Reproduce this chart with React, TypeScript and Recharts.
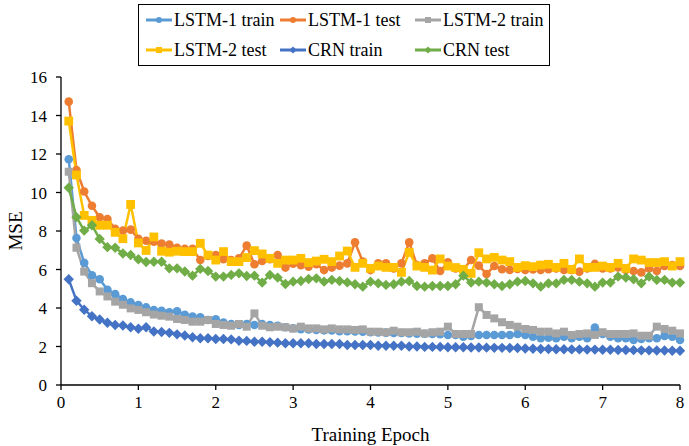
import React from 'react';
import { LineChart, Line, XAxis, YAxis } from 'recharts';

const epochs: number[] = Array.from({ length: 80 }, (_, i) => Math.round((i + 1)) / 10);

const lstm1Train = [
  11.73, 7.64, 6.35, 5.7, 5.49, 4.95, 4.72, 4.46, 4.29, 4.15, 4.03, 3.9, 3.86, 3.78, 3.83,
  3.65, 3.55, 3.52, 3.38, 3.41, 3.24, 3.17, 3.12, 3.17, 3.12, 3.17, 3.12, 3.07, 3.0, 2.95,
  2.9, 2.88, 2.86, 2.84, 2.83, 2.8, 2.8, 2.78, 2.77, 2.74, 2.73, 2.72, 2.7, 2.7, 2.68,
  2.67, 2.66, 2.65, 2.64, 2.6, 2.6, 2.51, 2.55, 2.6, 2.6, 2.6, 2.6, 2.6, 2.65, 2.6,
  2.51, 2.43, 2.46, 2.43, 2.51, 2.43, 2.51, 2.43, 2.98, 2.65, 2.51, 2.43, 2.43, 2.34, 2.39, 2.43, 2.43, 2.55, 2.51, 2.34,
];
const lstm1Test = [
  14.72, 11.17, 10.05, 9.31, 8.71, 8.62, 8.12, 8.02, 8.07, 7.6, 7.49, 7.44, 7.35, 7.3, 7.13,
  7.07, 7.07, 6.49, 6.7, 6.75, 6.53, 6.49, 6.58, 7.24, 6.27, 6.44, 6.53, 6.75, 6.1, 6.3,
  6.22, 6.15, 6.27, 5.97, 6.1, 6.2, 6.32, 7.41, 6.41, 5.97, 6.32, 6.32, 6.06, 6.32, 7.41,
  6.23, 6.32, 6.58, 5.92, 6.37, 6.06, 6.0, 6.49, 6.2, 5.77, 6.18, 6.01, 5.98, 6.03, 5.98,
  6.0, 5.98, 6.01, 6.06, 5.98, 5.98, 5.89, 6.06, 6.29, 6.06, 6.06, 6.11, 5.98, 5.92, 5.85, 6.06, 5.92, 6.18, 6.23, 6.18,
];
const lstm2Train = [
  11.08, 7.13, 5.89, 5.29, 4.86, 4.6, 4.33, 4.17, 3.98, 3.9, 3.78, 3.66, 3.6, 3.55, 3.43,
  3.38, 3.29, 3.29, 3.38, 3.17, 3.12, 3.08, 3.17, 3.03, 3.72, 3.08, 3.0, 3.03, 3.0, 2.93,
  3.03, 2.94, 2.94, 2.89, 2.94, 2.89, 2.89, 2.86, 2.89, 2.77, 2.77, 2.74, 2.82, 2.74, 2.74,
  2.77, 2.68, 2.74, 2.77, 3.03, 2.65, 2.65, 2.65, 4.04, 3.64, 3.46, 3.26, 3.12, 3.03, 2.91,
  2.86, 2.77, 2.77, 2.68, 2.77, 2.6, 2.65, 2.68, 2.6, 2.74, 2.65, 2.65, 2.65, 2.68, 2.56, 2.56, 3.03, 2.91, 2.82, 2.68,
];
const lstm2Test = [
  13.71, 10.91, 8.81, 8.55, 8.3, 8.3, 7.93, 7.6, 9.38, 7.38, 6.99, 7.69, 6.95, 6.9, 6.95,
  6.93, 6.93, 7.36, 6.75, 6.49, 6.93, 6.41, 6.41, 6.62, 6.98, 6.81, 6.58, 6.32, 6.49, 6.49,
  6.58, 6.36, 6.44, 6.53, 6.41, 6.7, 6.96, 6.11, 6.32, 6.06, 6.18, 6.11, 6.11, 5.85, 6.89,
  6.18, 6.11, 5.97, 6.55, 6.18, 6.1, 6.01, 5.8, 6.87, 6.55, 6.63, 6.49, 6.41, 6.11, 6.2,
  6.15, 6.23, 6.27, 6.11, 6.32, 6.01, 6.55, 6.11, 6.11, 6.18, 6.11, 6.32, 6.06, 6.55, 6.49, 6.36, 6.36, 6.41, 6.18, 6.41,
];
const crnTrain = [
  5.49, 4.38, 3.91, 3.57, 3.4, 3.23, 3.12, 3.09, 3.0, 2.92, 3.0, 2.78, 2.75, 2.71, 2.63,
  2.57, 2.48, 2.43, 2.43, 2.39, 2.39, 2.37, 2.3, 2.29, 2.25, 2.25, 2.22, 2.2, 2.17, 2.17,
  2.17, 2.17, 2.13, 2.13, 2.13, 2.13, 2.08, 2.08, 2.08, 2.08, 2.04, 2.04, 2.04, 2.04, 2.0,
  2.0, 1.98, 1.98, 1.98, 1.96, 1.96, 1.96, 1.95, 1.95, 1.94, 1.93, 1.93, 1.92, 1.92, 1.9,
  1.88, 1.87, 1.87, 1.86, 1.86, 1.85, 1.85, 1.84, 1.84, 1.83, 1.83, 1.82, 1.82, 1.81, 1.8, 1.8, 1.79, 1.79, 1.78, 1.78,
];
const crnTest = [
  10.25, 8.72, 8.02, 8.3, 7.59, 7.16, 7.13, 6.83, 6.75, 6.53, 6.39, 6.4, 6.4, 6.06, 6.06,
  5.9, 5.68, 6.03, 5.92, 5.63, 5.63, 5.72, 5.8, 5.66, 5.68, 5.32, 5.72, 5.58, 5.25, 5.37,
  5.4, 5.51, 5.54, 5.37, 5.46, 5.4, 5.33, 5.23, 5.11, 5.37, 5.28, 5.2, 5.23, 5.37, 5.4,
  5.14, 5.11, 5.14, 5.14, 5.14, 5.23, 5.68, 5.32, 5.37, 5.32, 5.23, 5.14, 5.23, 5.37, 5.4,
  5.28, 5.11, 5.28, 5.28, 5.46, 5.46, 5.37, 5.28, 5.11, 5.32, 5.32, 5.63, 5.58, 5.49, 5.28, 5.63, 5.46, 5.46, 5.32, 5.32,
];

const xTicks = [0, 1, 2, 3, 4, 5, 6, 7, 8];
const yTicks = [0, 2, 4, 6, 8, 10, 12, 14, 16];

const data = epochs.map((e, i) => ({
  epoch: e,
  l1tr: lstm1Train[i],
  l1te: lstm1Test[i],
  l2tr: lstm2Train[i],
  l2te: lstm2Test[i],
  crntr: crnTrain[i],
  crnte: crnTest[i],
}));

type Shape = 'circle' | 'square' | 'diamond';

const series: { key: string; name: string; color: string; shape: Shape; size: number }[] = [
  { key: 'l1tr', name: 'LSTM-1 train', color: '#5B9BD5', shape: 'circle', size: 4.3 },
  { key: 'l1te', name: 'LSTM-1 test', color: '#ED7D31', shape: 'circle', size: 4.3 },
  { key: 'l2tr', name: 'LSTM-2 train', color: '#A5A5A5', shape: 'square', size: 4 },
  { key: 'l2te', name: 'LSTM-2 test', color: '#FFC000', shape: 'square', size: 4.4 },
  { key: 'crntr', name: 'CRN train', color: '#4472C4', shape: 'diamond', size: 5.2 },
  { key: 'crnte', name: 'CRN test', color: '#70AD47', shape: 'diamond', size: 5.2 },
];

const renderMarker = (shape: Shape, cx: number, cy: number, s: number, color: string, key?: any) => {
  if (shape === 'circle') return <circle key={key} cx={cx} cy={cy} r={s} fill={color} stroke="none" />;
  if (shape === 'square')
    return <rect key={key} x={cx - s} y={cy - s} width={2 * s} height={2 * s} fill={color} stroke="none" />;
  return (
    <path
      key={key}
      d={`M${cx},${cy - s}L${cx + s},${cy}L${cx},${cy + s}L${cx - s},${cy}Z`}
      fill={color}
      stroke="none"
    />
  );
};

const makeDot = (shape: Shape, color: string, size: number) => (p: any) => {
  if (p.cx == null || p.cy == null) return <g key={p.index} />;
  return renderMarker(shape, p.cx, p.cy, size, color, `${p.dataKey}-${p.index}`);
};

const serif = '"Liberation Serif", "Times New Roman", serif';

const LegendBox = () => (
  <div
    style={{
      position: 'absolute',
      left: 138,
      top: 4,
      border: '1px solid #000',
      width: 412,
      height: 62,
      boxSizing: 'border-box',
      background: '#fff',
      display: 'grid',
      gridTemplateColumns: '134px 135px 140px',
      gridTemplateRows: '30px 30px',
      paddingLeft: 7,
      paddingTop: 0,
      fontFamily: serif,
      fontSize: 18,
      color: '#000',
    }}
  >
    {series.map((s) => (
      <div key={s.key} style={{ display: 'flex', alignItems: 'center', whiteSpace: 'nowrap' }}>
        <svg width={26} height={12} style={{ marginRight: 2 }}>
          <line x1={0} y1={6} x2={26} y2={6} stroke={s.color} strokeWidth={3} />
          {renderMarker(s.shape, 13, 6, s.shape === 'diamond' ? 3.6 : 3, s.color)}
        </svg>
        <span>{s.name}</span>
      </div>
    ))}
  </div>
);

export default function App() {
  return (
    <div style={{ position: 'absolute', left: 0, top: 0, width: 689, height: 446, background: '#fff' }}>
      <LineChart
        width={689}
        height={446}
        data={data}
        margin={{ top: 77, right: 9, bottom: 0, left: 0 }}
      >
        <XAxis
          dataKey="epoch"
          type="number"
          domain={[0, 8]}
          ticks={xTicks}
          interval={0}
          axisLine={{ stroke: '#000', strokeWidth: 1.3 }}
          tickLine={{ stroke: '#000', strokeWidth: 1.3 }}
          tickSize={5}
          tickMargin={6}
          height={61}
          tick={{ fill: '#000', fontSize: 17, fontFamily: serif }}
          label={{
            content: (props: any) => {
              const vb = props.viewBox || {};
              return (
                <text
                  x={vb.x + vb.width / 2}
                  y={441}
                  textAnchor="middle"
                  fontFamily={serif}
                  fontSize={19}
                  fill="#000"
                >
                  Training Epoch
                </text>
              );
            },
          }}
        />
        <YAxis
          type="number"
          domain={[0, 16]}
          ticks={yTicks}
          interval={0}
          width={61}
          axisLine={{ stroke: '#000', strokeWidth: 1.3 }}
          tickLine={{ stroke: '#000', strokeWidth: 1.3 }}
          tickSize={5}
          tickMargin={9}
          tick={{ fill: '#000', fontSize: 17, fontFamily: serif }}
          label={{
            content: (props: any) => {
              const vb = props.viewBox || {};
              const cy = vb.y + vb.height / 2;
              return (
                <text
                  x={15}
                  y={cy}
                  transform={`rotate(-90, 15, ${cy})`}
                  textAnchor="middle"
                  dominantBaseline="central"
                  fontFamily={serif}
                  fontSize={19}
                  fill="#000"
                >
                  MSE
                </text>
              );
            },
          }}
        />
        {series.map((s) => (
          <Line
            key={s.key}
            type="linear"
            dataKey={s.key}
            name={s.name}
            stroke={s.color}
            strokeWidth={2.5}
            dot={makeDot(s.shape, s.color, s.size)}
            activeDot={false}
            isAnimationActive={false}
          />
        ))}
      </LineChart>
      <LegendBox />
    </div>
  );
}
